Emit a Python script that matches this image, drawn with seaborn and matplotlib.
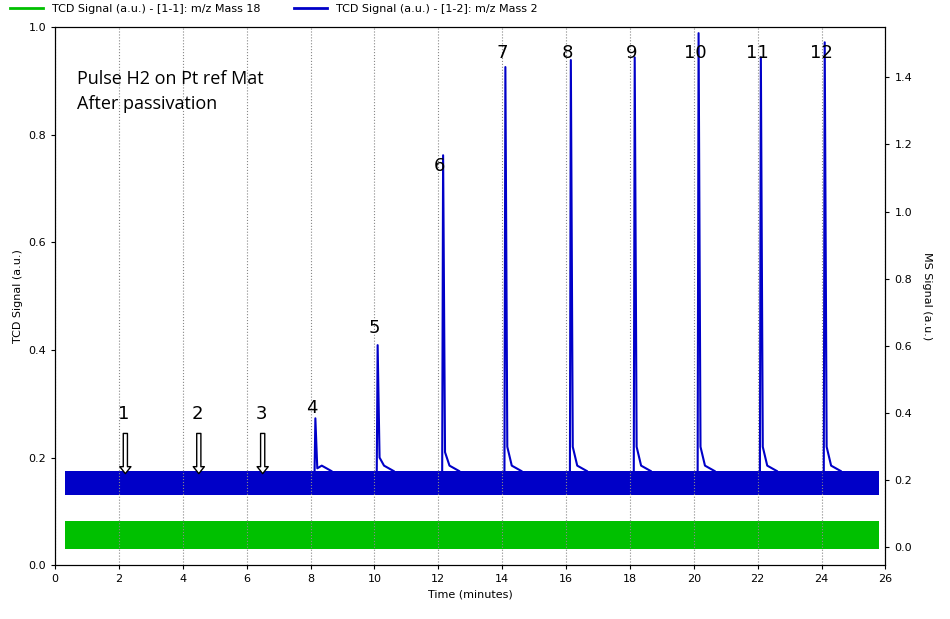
import matplotlib
matplotlib.use("Agg")
import matplotlib.pyplot as plt
import seaborn as sns
import pandas as pd

# ---- data ----
peak_labels = ["4", "5", "6", "7", "8", "9", "10", "11", "12"]
peak_times = [8.15, 10.1, 12.15, 14.1, 16.15, 18.15, 20.15, 22.1, 24.1]
peak_heights = [0.273, 0.409, 0.762, 0.926, 0.939, 0.944, 0.989, 0.944, 0.972]
tail_heights = [0.18, 0.20, 0.21, 0.22, 0.22, 0.22, 0.22, 0.22, 0.22]
arrow_labels = ["1", "2", "3"]
arrow_times = [2.2, 4.5, 6.5]
blue_band = [0.13, 0.175]
green_band = [0.03, 0.082]
time_range = [0.3, 25.8]
label_heights = [0.27, 0.42, 0.72, 0.93, 0.93, 0.93, 0.93, 0.93, 0.93]

blue = "#0000c8"
green = "#00c000"

rows = []
for t, h, tl in zip(peak_times, peak_heights, tail_heights):
    mid = (blue_band[0] + blue_band[1]) / 2
    for x, y in [(t - 0.03, mid), (t, h), (t + 0.06, tl), (t + 0.2, blue_band[1] + 0.01),
                 (t + 0.5, blue_band[1])]:
        rows.append({"t": x, "y": y, "peak": t})
df = pd.DataFrame(rows)

fig = plt.figure(figsize=(9.5, 6.19), dpi=100)
ax = fig.add_axes([0.058, 0.087, 0.874, 0.869])
ax.fill_between(time_range, green_band[0], green_band[1], color=green, lw=0)
ax.fill_between(time_range, blue_band[0], blue_band[1], color=blue, lw=0)
sns.lineplot(data=df, x="t", y="y", units="peak", estimator=None, sort=False,
             color=blue, lw=1.5, ax=ax)

ax.set_xlim(0, 26)
ax.set_ylim(0, 1.0)
ax.set_xticks(range(0, 27, 2))
ax.set_yticks([0, 0.2, 0.4, 0.6, 0.8, 1.0])
ax.set_yticklabels(["0.0", "0.2", "0.4", "0.6", "0.8", "1.0"])
ax.grid(axis="x", ls=":", color="#888888", lw=0.8)
ax.tick_params(labelsize=8, direction="out", length=3)
ax.set_xlabel("Time (minutes)", fontsize=8)
ax.set_ylabel("TCD Signal (a.u.)", fontsize=8)

ax2 = ax.twinx()
ax2.set_ylim(-0.0536, 1.549)
ax2.set_yticks([0.0, 0.2, 0.4, 0.6, 0.8, 1.0, 1.2, 1.4])
ax2.set_yticklabels(["0.0", "0.2", "0.4", "0.6", "0.8", "1.0", "1.2", "1.4"])
ax2.tick_params(labelsize=8, direction="out", length=3)
ax2.set_ylabel("MS Signal (a.u.)", fontsize=8, rotation=270, labelpad=14)

for lab, t, y in zip(peak_labels, peak_times, label_heights):
    ax.text(t - 0.1, y + 0.005, lab, fontsize=13, ha="center", va="bottom")
for lab, t in zip(arrow_labels, arrow_times):
    ax.text(t - 0.05, 0.265, lab, fontsize=13, ha="center", va="bottom")
    ax.annotate("", xy=(t, 0.165), xytext=(t, 0.25),
                arrowprops=dict(arrowstyle="simple,head_width=0.8,tail_width=0.3",
                                fc="white", ec="black", lw=1))

ax.text(0.7, 0.92, "Pulse H2 on Pt ref Mat\nAfter passivation", fontsize=13,
        va="top", ha="left", linespacing=1.5, family="Open Sans")

fig.legend(handles=[plt.Line2D([], [], color=green, lw=2),
                    plt.Line2D([], [], color=blue, lw=2)],
           labels=["TCD Signal (a.u.) - [1-1]: m/z Mass 18",
                   "TCD Signal (a.u.) - [1-2]: m/z Mass 2"],
           loc="upper left", bbox_to_anchor=(0.0, 1.01), ncol=2, frameon=False,
           fontsize=8, handlelength=3, columnspacing=3)

fig.savefig("out.png", dpi=100)
